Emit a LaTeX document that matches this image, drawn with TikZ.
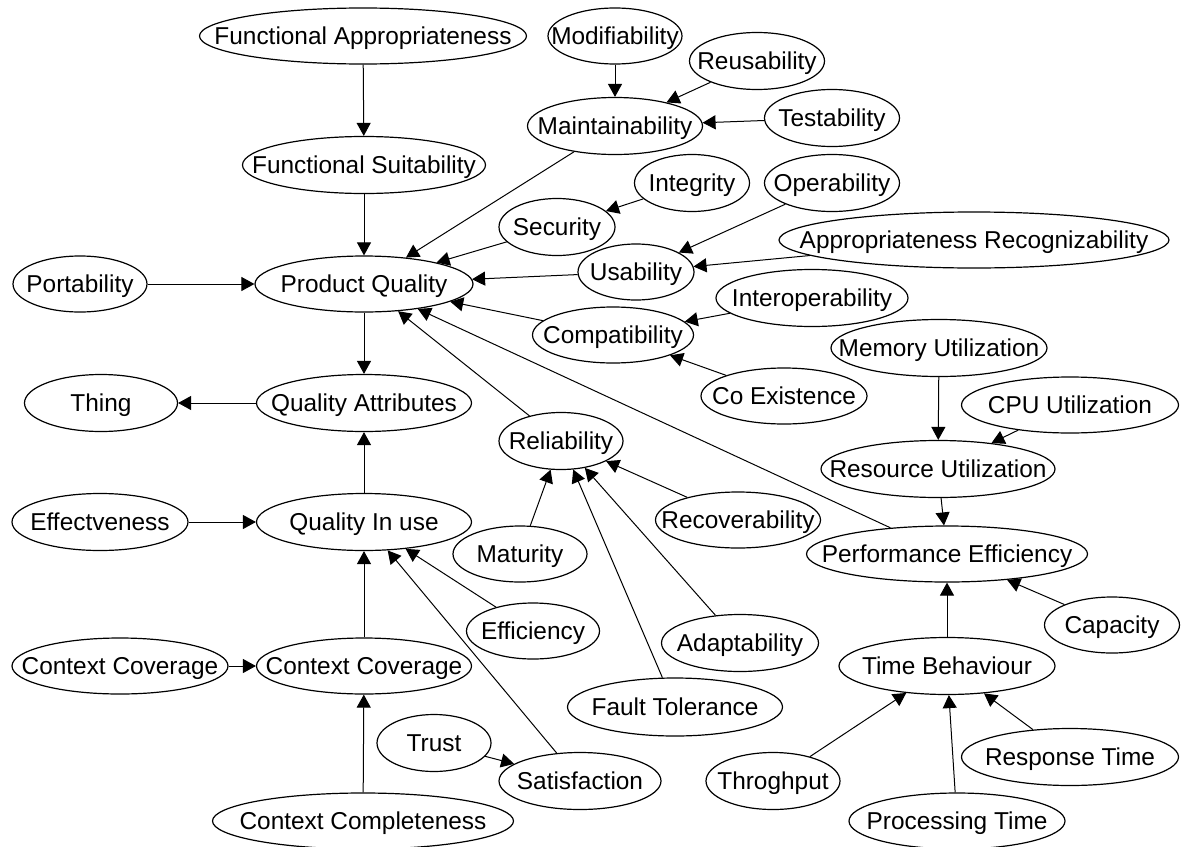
\documentclass[tikz,border=0pt]{standalone}
\usepackage{fontspec}
\setmainfont{Liberation Sans}
\usetikzlibrary{shapes.geometric,arrows.meta}

% ellipse node: name, x, y, label, width(px), height(px)
\newcommand\qnode[6]{%
  \node[qbox, minimum width={#5*0.5pt}, minimum height={#6*0.5pt}] (#1) at (#2,#3) {\makebox[0pt]{#4}};}

\tikzset{
  qbox/.style={ellipse, draw, line width=0.6pt, inner sep=0pt,
    text height=8.8pt, text depth=0pt, font=\fontsize{12.2}{14}\selectfont},
  link/.style={line width=0.5pt, -{Triangle[length=6.5pt,width=7pt]}},
}

\begin{document}
\begin{tikzpicture}[x=0.5pt, y=-0.5pt]
\fill[white] (0,0) rectangle (1188,846);
\useasboundingbox (0,0) rectangle (1188,846);

% product quality branch
\qnode{fa}{363}{36}{Functional Appropriateness}{327}{56}
\qnode{fs}{364}{165}{Functional Suitability}{243}{57}
\qnode{pq}{364}{284}{Product Quality}{218}{56}
\qnode{port}{80}{284}{Portability}{134}{56}
\qnode{maint}{615}{126}{Maintainability}{175}{57}
\qnode{sec}{557}{227}{Security}{116}{57}
\qnode{modif}{615}{36}{Modifiability}{134}{56}
\qnode{reus}{757}{61}{Reusability}{135}{57}
\qnode{test}{832}{118}{Testability}{135}{57}
\qnode{integ}{692}{183}{Integrity}{115}{57}
\qnode{oper}{832}{183}{Operability}{135}{57}
\qnode{arec}{974}{240}{Appropriateness Recognizability}{390}{56}
\qnode{usab}{636}{272}{Usability}{116}{56}
\qnode{interop}{812}{298}{Interoperability}{192}{57}
\qnode{compat}{613}{335}{Compatibility}{161}{56}
\qnode{coex}{784}{396}{Co Existence}{166}{56}
\qnode{rel}{561}{441}{Reliability}{124}{57}
\qnode{recov}{738}{520}{Recoverability}{165}{56}
\qnode{mat}{520}{554}{Maturity}{134}{56}
\qnode{adapt}{740}{643}{Adaptability}{157}{57}
\qnode{fault}{675}{707}{Fault Tolerance}{215}{58}

% performance efficiency branch
\qnode{mem}{939}{348}{Memory Utilization}{216}{57}
\qnode{cpu}{1070}{405}{CPU Utilization}{217}{56}
\qnode{res}{938}{469}{Resource Utilization}{234}{57}
\qnode{pe}{947}{554}{Performance Efficiency}{281}{56}
\qnode{cap}{1112}{625}{Capacity}{135}{56}
\qnode{tb}{947}{666}{Time Behaviour}{216}{57}
\qnode{resp}{1070}{757}{Response Time}{217}{57}
\qnode{thr}{773}{781}{Throghput}{134}{57}
\qnode{proc}{957}{821}{Processing Time}{216}{56}

% quality in use branch
\qnode{thing}{101}{403}{Thing}{153}{57}
\qnode{qa}{364}{403}{Quality Attributes}{215}{57}
\qnode{effv}{100}{522}{Effectveness}{176}{57}
\qnode{qiu}{364}{522}{Quality In use}{215}{57}
\qnode{effic}{533}{631}{Efficiency}{133}{56}
\qnode{ccl}{120}{666}{Context Coverage}{216}{56}
\qnode{ccr}{364}{666}{Context Coverage}{215}{56}
\qnode{trust}{434}{743}{Trust}{114}{57}
\qnode{sat}{580}{781}{Satisfaction}{162}{57}
\qnode{ccomp}{363}{821}{Context Completeness}{301}{56}

% connectors
\draw[link] (fa) -- (fs);
\draw[link] (fs) -- (pq);
\draw[link] (port) -- (pq);
\draw[link] (maint) -- (pq);
\draw[link] (sec) -- (pq);
\draw[link] (usab) -- (pq);
\draw[link] (compat) -- (pq);
\draw[link] (rel) -- (pq);
\draw[link] (pe) -- (pq);
\draw[link] (pq) -- (qa);
\draw[link] (qa) -- (thing);
\draw[link] (qiu) -- (qa);
\draw[link] (effv) -- (qiu);
\draw[link] (ccl) -- (ccr);
\draw[link] (ccr) -- (qiu);
\draw[link] (ccomp) -- (ccr);
\draw[link] (effic) -- (qiu);
\draw[link] (sat) -- (qiu);
\draw[link] (trust) -- (sat);
\draw[link] (modif) -- (maint);
\draw[link] (reus) -- (maint);
\draw[link] (test) -- (maint);
\draw[link] (integ) -- (sec);
\draw[link] (oper) -- (usab);
\draw[link] (arec) -- (usab);
\draw[link] (interop) -- (compat);
\draw[link] (coex) -- (compat);
\draw[link] (mat) -- (rel);
\draw[link] (recov) -- (rel);
\draw[link] (adapt) -- (rel);
\draw[link] (fault) -- (rel);
\draw[link] (mem) -- (res);
\draw[link] (cpu) -- (res);
\draw[link] (res) -- (pe);
\draw[link] (tb) -- (pe);
\draw[link] (cap) -- (pe);
\draw[link] (thr) -- (tb);
\draw[link] (proc) -- (tb);
\draw[link] (resp) -- (tb);
\end{tikzpicture}
\end{document}
